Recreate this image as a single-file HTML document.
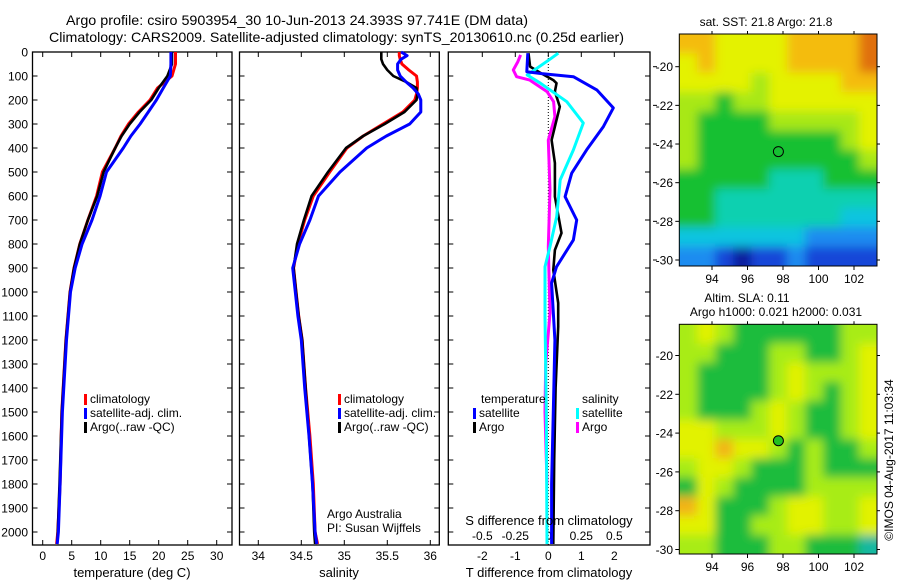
<!DOCTYPE html>
<html><head><meta charset="utf-8"><style>
html,body{margin:0;padding:0;background:#fff;}
svg{display:block;font-family:"Liberation Sans",sans-serif;}
text{fill:#000;}
</style></head><body>
<svg id="c" width="900" height="580" viewBox="0 0 900 580" xmlns="http://www.w3.org/2000/svg">
<defs>
<filter id="blur" x="-5%" y="-5%" width="110%" height="110%"><feGaussianBlur stdDeviation="5"/></filter>
<clipPath id="clip1"><rect x="679.3" y="34" width="197.7" height="232"/></clipPath>
<clipPath id="clip2"><rect x="679.3" y="324.3" width="197.7" height="229.7"/></clipPath>
</defs>
<text x="66" y="25" font-size="14" textLength="462" lengthAdjust="spacingAndGlyphs">Argo profile: csiro 5903954_30 10-Jun-2013 24.393S 97.741E (DM data)</text>
<text x="49" y="42" font-size="14" textLength="575" lengthAdjust="spacingAndGlyphs">Climatology: CARS2009. Satellite-adjusted climatology: synTS_20130610.nc (0.25d earlier)</text>
<g id="plots"></g>
<text x="132" y="577" font-size="13" text-anchor="middle">temperature (deg C)</text>
<text x="339" y="577" font-size="13" text-anchor="middle">salinity</text>
<text x="549" y="577" font-size="13" text-anchor="middle">T difference from climatology</text>
<text x="549" y="525" font-size="13" text-anchor="middle">S difference from climatology</text>
<text x="327" y="518" font-size="12">Argo Australia</text>
<text x="327" y="532" font-size="12">PI: Susan Wijffels</text>
<text x="766" y="26" font-size="12" text-anchor="middle">sat. SST: 21.8 Argo: 21.8</text>
<text x="747" y="302" font-size="12" text-anchor="middle">Altim. SLA: 0.11</text>
<text x="776" y="316" font-size="12" text-anchor="middle">Argo h1000: 0.021 h2000: 0.031</text>
<text transform="translate(893,460) rotate(-90)" font-size="12" text-anchor="middle">©IMOS 04-Aug-2017 11:03:34</text>
</svg>
<script>
// ---- data ----
const depthTicks = [0,100,200,300,400,500,600,700,800,900,1000,1100,1200,1300,1400,1500,1600,1700,1800,1900,2000];
const tempTicks = [0,5,10,15,20,25,30];
const salTicks = [34,34.5,35,35.5,36];
const tDiffTicks = [-2,-1,0,1,2];
const sDiffTicks = [-0.5,-0.25,0,0.25,0.5];

const tempDepth = [0,50,100,150,200,250,300,350,400,500,600,700,800,900,1000,1200,1500,1800,2000,2050];
const tempClim = [22.9,22.9,22.3,19.8,18.5,16.5,14.8,13.5,12.5,10.3,9.3,7.8,6.4,5.4,4.7,4.0,3.3,3.0,2.6,2.4];
const tempSat  = [22.1,22.1,22.0,20.8,19.6,18.2,16.8,15.2,13.9,11.0,9.9,8.5,6.8,5.6,4.8,4.1,3.4,3.0,2.7,2.5];
const tempArgo = [22.3,22.3,21.5,20.0,18.7,16.7,15.0,13.6,12.5,10.5,9.4,7.8,6.4,5.4,4.7,4.0,3.3,2.9,2.6,2.5];

const salDepth = [0,15,30,50,75,100,125,150,175,200,250,300,350,400,500,600,700,800,900,1000,1100,1200,1400,1600,1800,2000,2050];
const salClim = [35.64,35.64,35.65,35.67,35.75,35.84,35.85,35.85,35.84,35.82,35.68,35.45,35.22,35.03,34.83,34.64,34.54,34.46,34.41,34.44,34.47,34.51,34.55,34.60,34.64,34.66,34.69];
const salSat  = [35.66,35.73,35.66,35.62,35.62,35.65,35.72,35.80,35.86,35.89,35.89,35.76,35.49,35.26,34.95,34.70,34.60,34.48,34.40,34.43,34.46,34.50,34.54,34.59,34.63,34.66,34.68];
const salArgo = [35.43,35.43,35.43,35.45,35.50,35.57,35.72,35.84,35.85,35.84,35.70,35.47,35.22,35.02,34.81,34.62,34.53,34.45,34.41,34.44,34.47,34.51,34.55,34.59,34.63,34.65,34.66];

const dTSatDepth = [5,82,90,103,158,233,311,408,505,603,700,783,895,963,1200,1500,1800,2050];
const dTSat = [-0.62,-0.65,-0.2,0.76,1.47,1.97,1.67,1.16,0.71,0.51,0.86,0.76,0.25,0.1,0.2,0.15,0.1,0.1];
const dTArgoDepth = [5,61,86,117,130,165,228,311,367,463,603,754,825,908,1046,1144,1400,1700,2050];
const dTArgo = [-0.6,-0.55,-0.25,0.15,0.25,0.2,0.35,0.2,0.1,0.2,0.2,0.4,0.2,0.15,0.3,0.3,0.22,0.18,0.15];
const dSSatDepth = [5,30,96,130,207,296,408,533,686,811,895,1103,1500,2050];
const dSSat = [0.076,0.013,-0.16,-0.06,0.14,0.265,0.19,0.09,0.064,0.013,-0.025,-0.025,-0.015,-0.01];
const dSArgoDepth = [12,40,75,103,117,165,207,270,367,575,811,1088,1300,1500,1800];
const dSArgo = [-0.21,-0.23,-0.265,-0.24,-0.14,-0.01,0.04,0.05,0,0.013,0,0.013,-0.02,-0.025,-0.01];

const lonTicks = [94,96,98,100,102];
const latTicks = [-20,-22,-24,-26,-28,-30];
const sstGrid = [
 [8,8,7,7,7,7,8,8,8,8,9],
 [7,8,7,7,7,7,8,8,8,8,9],
 [7,7,7,7,6,7,7,7,7,8,8],
 [6,6,5,6,6,7,7,7,7,7,7],
 [6,5,5,5,5,6,6,6,6,6,7],
 [6,5,5,5,5,5,5,5,5,6,7],
 [6,5,5,5,5,5,5,5,5,5,6],
 [5,5,5,5,5,4,4,4,5,5,5],
 [5,5,4,4,4,4,4,4,4,4,4],
 [5,5,4,4,4,4,4,4,4,3,3],
 [3,3,3,3,3,3,3,2,2,2,2],
 [2,2,1,0,1,1,2,1,1,1,1]];
const slaGrid = [
 [6,7,6,5,5,5,5,5,5,6,6],
 [6,6,5,5,5,6,6,5,5,6,7],
 [6,5,5,5,5,6,7,6,6,6,7],
 [6,5,5,5,5,6,7,6,5,6,7],
 [6,5,5,5,6,7,6,5,5,6,7],
 [7,7,6,6,6,7,6,5,5,6,7],
 [7,7,8,7,7,6,5,6,5,5,6],
 [6,7,7,6,5,5,5,6,5,5,5],
 [5,7,6,5,5,5,5,6,6,6,6],
 [8,7,5,5,5,6,7,7,6,6,7],
 [7,7,5,5,6,6,7,7,6,6,7],
 [6,6,5,5,5,6,6,5,5,5,4]];
const argoLon = 97.741, argoLat = -24.393;

// ---- scales ----
const yD = d => 52 + 0.24*d;
const xT = t => 42.7 + 5.8*t;
const xS = s => 258.3 + 86*(s-34);
const xDT = v => 548.3 + 33*v;
const xDS = v => 548.3 + 132*v;
const lonX = lon => 712 + 17.75*(lon-94);
const latY1 = lat => 66.7 + 19.33*(-20-lat);
const latY2 = lat => 355.5 + 19.4*(-20-lat);
const cmap = ['#0c1c9c','#1446d8','#1e8cf0','#10c4e0','#10d0b0','#18c030','#a8e814','#e4f200','#f4bc10','#e07010'];
const slaCmap = ['#0c1c9c','#1446d8','#1e8cf0','#10bce8','#18b8a0','#1cbc3c','#a8ec18','#e2f200','#f2b418','#e07010'];

const NS='http://www.w3.org/2000/svg';
const G=document.getElementById('plots');
function el(tag, attrs, parent){const e=document.createElementNS(NS,tag);for(const k in attrs)e.setAttribute(k,attrs[k]);(parent||G).appendChild(e);return e;}
function txt(x,y,s,anchor,size){const t=el('text',{x:x,y:y,'font-size':size||12,'text-anchor':anchor||'middle'});t.textContent=s;return t;}

function panel(x0,x1,name){
  const r=el('rect',{x:x0,y:52,width:x1-x0,height:493,fill:'none',stroke:'#000','stroke-width':1.3});
  
  
  depthTicks.forEach(d=>{
    el('line',{x1:x0,x2:x0+5,y1:yD(d),y2:yD(d),stroke:'#000'});
    el('line',{x1:x1-5,x2:x1,y1:yD(d),y2:yD(d),stroke:'#000'});
  });
}
function line(depths, vals, xf, color, name, w){
  const pts=depths.map((d,i)=>xf(vals[i]).toFixed(1)+','+yD(d).toFixed(1)).join(' ');
  const p=el('polyline',{points:pts,fill:'none',stroke:color,'stroke-width':w||3,'stroke-linejoin':'round'});
  
  
}

panel(32.5,232,'temperature-panel');
panel(239.5,439.3,'salinity-panel');
panel(448.3,650,'difference-panel');

depthTicks.forEach(d=>{const t=txt(28,yD(d)+4.5,String(d),'end',12);
  
  });

tempTicks.forEach(v=>{
  el('line',{x1:xT(v),x2:xT(v),y1:545,y2:540,stroke:'#000'});
  el('line',{x1:xT(v),x2:xT(v),y1:52,y2:57,stroke:'#000'});
  const t=txt(xT(v),560,String(v));
  
  
});
salTicks.forEach(v=>{
  el('line',{x1:xS(v),x2:xS(v),y1:545,y2:540,stroke:'#000'});
  el('line',{x1:xS(v),x2:xS(v),y1:52,y2:57,stroke:'#000'});
  const t=txt(xS(v),560,String(v));
  
  
});
tDiffTicks.forEach(v=>{
  el('line',{x1:xDT(v),x2:xDT(v),y1:52,y2:57,stroke:'#000'});
  const t=txt(xDT(v),560,String(v));
  
  
});
sDiffTicks.forEach(v=>{
  const t=txt(xDS(v),540,String(v));
  
  
});
el('line',{x1:xDT(0),x2:xDT(0),y1:52,y2:545,stroke:'#000','stroke-dasharray':'1,2','stroke-width':1});

line(tempDepth,tempClim,xT,'#f00','temperature-climatology-line');
line(tempDepth,tempArgo,xT,'#000','temperature-argo-line',2.6);
line(tempDepth,tempSat,xT,'#00f','temperature-satellite-line');
line(salDepth,salClim,xS,'#f00','salinity-climatology-line');
line(salDepth,salArgo,xS,'#000','salinity-argo-line',2.6);
line(salDepth,salSat,xS,'#00f','salinity-satellite-line');
line(dSArgoDepth,dSArgo,xDS,'#f0f','s-diff-argo-line');
line(dTArgoDepth,dTArgo,xDT,'#000','t-diff-argo-line',2.6);
line(dSSatDepth,dSSat,xDS,'#0ff','s-diff-satellite-line');
line(dTSatDepth,dTSat,xDT,'#00f','t-diff-satellite-line');

function legend(x,y,color,label,name){
  const m=el('rect',{x:x,y:y-9,width:3,height:11,fill:color});
  
  
  const t=txt(x+6,y,label,'start',12);
  
  
}
legend(84,403,'#f00','climatology','legend-climatology');
legend(84,417,'#00f','satellite-adj. clim.','legend-satellite-adj');
legend(84,431,'#000','Argo(..raw -QC)','legend-argo');
legend(338,403,'#f00','climatology','legend-climatology-sal');
legend(338,417,'#00f','satellite-adj. clim.','legend-satellite-adj-sal');
legend(338,431,'#000','Argo(..raw -QC)','legend-argo-sal');
const lt=txt(481,403,'temperature','start',12);


const ls=txt(582,403,'salinity','start',12);


legend(473,417,'#00f','satellite','legend-t-satellite');
legend(473,431,'#000','Argo','legend-t-argo');
legend(576,417,'#0ff','satellite','legend-s-satellite');
legend(576,431,'#f0f','Argo','legend-s-argo');

function drawCells(grid,x0,x1,top,bottom,cm,parent){
  const rows=grid.length,cols=grid[0].length;
  const cw=(x1-x0)/cols, rh=(bottom-top)/rows;
  grid.forEach((row,i)=>row.forEach((v,j)=>{
    // extend edge cells outward so the blur does not fade at borders
    const ex0=j===0?-12:0, ex1=j===cols-1?12:0, ey0=i===0?-12:0, ey1=i===rows-1?12:0;
    const c=el('rect',{x:(x0+j*cw+ex0).toFixed(2),y:(top+i*rh+ey0).toFixed(2),width:(cw+0.6-ex0+ex1).toFixed(2),height:(rh+0.6-ey0+ey1).toFixed(2),fill:cm[v]},parent);
    
    
  }));
}
function map(grid, top, bottom, latY, cm, name, markerFill, clipId){
  const x0=679.3,x1=877;
  const g=el('g',{'clip-path':'url(#'+clipId+')'});
  
  
  const inner=el('g',{filter:'url(#blur)'},g);
  drawCells(grid,x0,x1,top,bottom,cm,inner);
  el('rect',{x:x0,y:top,width:x1-x0,height:bottom-top,fill:'none',stroke:'#000','stroke-width':1});
  lonTicks.forEach(l=>{
    el('line',{x1:lonX(l),x2:lonX(l),y1:bottom,y2:bottom+4,stroke:'#000'});
    el('line',{x1:lonX(l),x2:lonX(l),y1:top-3,y2:top,stroke:'#000'});
    const t=txt(lonX(l),bottom+17,String(l));
    
    
  });
  latTicks.forEach(l=>{
    el('line',{x1:x0-4,x2:x0,y1:latY(l),y2:latY(l),stroke:'#000'});
    el('line',{x1:x1,x2:x1+3,y1:latY(l),y2:latY(l),stroke:'#000'});
    const t=txt(673,latY(l)+4.5,String(l),'end',12);
    
    
  });
  const c=el('circle',{cx:lonX(argoLon),cy:latY(argoLat),r:5,fill:markerFill,stroke:'#000','stroke-width':1});
  
  
}
map(sstGrid,34,266,latY1,cmap,'sst-map','none','clip1');
map(slaGrid,324.3,554,latY2,slaCmap,'sla-map','#22c020','clip2');
latTicks.forEach(l=>el('line',{x1:653,x2:657,y1:latY1(l),y2:latY1(l),stroke:'#000'}));
</script>
</body></html>
